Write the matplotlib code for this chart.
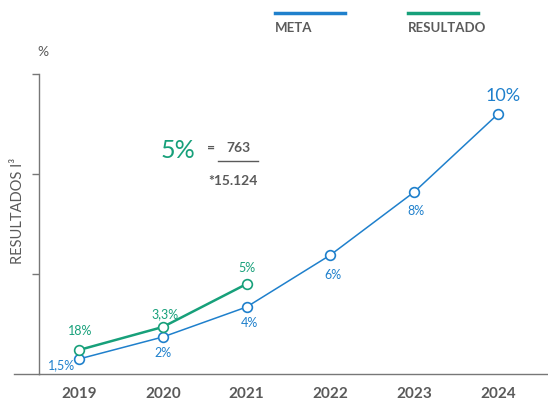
import numpy as np
import matplotlib
matplotlib.use("Agg")
import matplotlib.pyplot as plt
from matplotlib.lines import Line2D

plt.rcParams['font.family'] = ['Lato', 'DejaVu Sans']

# Datos (escala vertical sin unidades, solo posicion).
anios = ["2019", "2020", "2021", "2022", "2023", "2024"]
meta = [0.15, 0.37, 0.67, 1.19, 1.82, 2.60]
meta_txt = ["1,5%", "2%", "4%", "6%", "8%", "10%"]
resultado = [0.24, 0.47, 0.90]
resultado_txt = ["18%", "3,3%", "5%"]

azul = "#1f80cc"
verde = "#17a07a"
gris = "#5a5a5a"

x = np.arange(len(anios))

fig = plt.figure(figsize=(5.48, 4.04), dpi=100)
ax = fig.add_axes([39 / 548, 30 / 404, 509 / 548, 300 / 404])

ax.plot(x, meta, color=azul, lw=1.1, marker="o", ms=7, mfc="white",
        mec=azul, mew=1.2, zorder=3)
ax.plot(x[:len(resultado)], resultado, color=verde, lw=1.8, marker="o", ms=7,
        mfc="white", mec=verde, mew=1.2, zorder=4)

# Etiquetas de los puntos (desplazamientos en pixeles).
off_meta = [(-17, -6), (0, -16), (3, -16), (3, -20), (2, -19), (5, 18)]
for i, t in enumerate(meta_txt):
    fs = 13 if i == len(meta_txt) - 1 else 9
    ax.annotate(t, (x[i], meta[i]), xytext=off_meta[i], textcoords="offset pixels",
                ha="center", va="center", color=azul, fontsize=fs)

off_res = [(1, 19), (2, 13), (0, 16)]
for i, t in enumerate(resultado_txt):
    ax.annotate(t, (x[i], resultado[i]), xytext=off_res[i], textcoords="offset pixels",
                ha="center", va="center", color=verde, fontsize=9)

ax.set_xlim(-40 / 83.8, 5 + 50 / 83.8)
ax.set_ylim(0, 3)
ax.set_xticks(x)
ax.set_xticklabels(anios, fontsize=11, fontweight="bold", color=gris)
ax.tick_params(axis="x", length=0, pad=9)
ax.set_yticks([1, 2, 3])
ax.set_yticklabels([])
ax.tick_params(axis="y", length=5, width=1, color="#777777")

for s in ["top", "right"]:
    ax.spines[s].set_visible(False)
ax.spines["left"].set_color("#777777")
ax.spines["bottom"].set_color("#777777")
ax.spines["left"].set_linewidth(1)
ax.spines["bottom"].set_linewidth(1)

# Prolongacion de la linea base hacia la izquierda.
ax.add_line(Line2D([-25 / 509, 0], [0, 0], transform=ax.transAxes, color="#777777",
                   lw=1, clip_on=False))

# Titulos de eje.
fig.text(43 / 548, 1 - 52 / 404, "%", ha="center", va="center", color=gris,
         fontsize=10)
fig.text(18 / 548, 1 - 211 / 404, "RESULTADOS I³", ha="center", va="center",
         rotation=90, color=gris, fontsize=10.5)

# Leyenda.
fig.add_artist(Line2D([275 / 548, 345 / 548], [1 - 13 / 404] * 2, color=azul, lw=2.5))
fig.add_artist(Line2D([408 / 548, 478 / 548], [1 - 13 / 404] * 2, color=verde, lw=2.5))
fig.text(275 / 548, 1 - 28 / 404, "META", ha="left", va="center", color=gris,
         fontsize=9.5, fontweight="bold")
fig.text(408 / 548, 1 - 28 / 404, "RESULTADO", ha="left", va="center", color=gris,
         fontsize=9.5, fontweight="bold")

# Formula.
fig.text(178 / 548, 1 - 150 / 404, "5%", ha="center", va="center", color=verde,
         fontsize=18)
fig.text(211 / 548, 1 - 148 / 404, "=", ha="center", va="center", color=gris,
         fontsize=10, fontweight="bold")
fig.text(238 / 548, 1 - 148 / 404, "763", ha="center", va="center", color=gris,
         fontsize=10, fontweight="bold")
fig.add_artist(Line2D([218 / 548, 258 / 548], [1 - 161 / 404] * 2, color=gris, lw=1))
fig.text(233 / 548, 1 - 181 / 404, "*15.124", ha="center", va="center", color=gris,
         fontsize=10, fontweight="bold")

plt.savefig("out.png", dpi=100)
